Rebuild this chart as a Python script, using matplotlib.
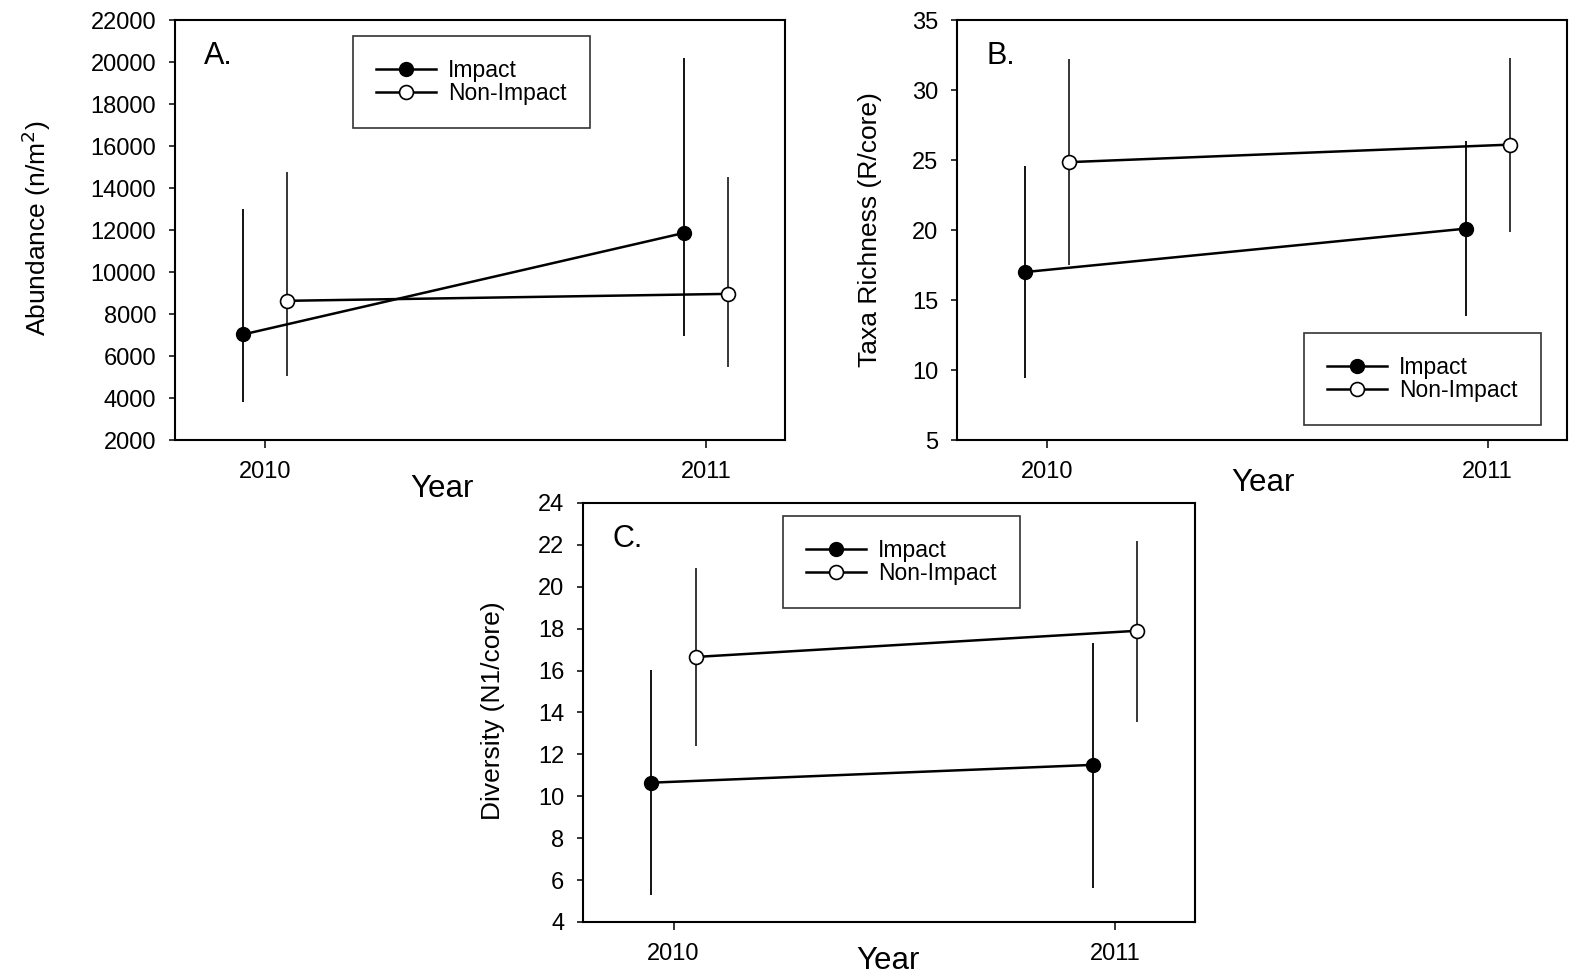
import matplotlib
matplotlib.use('Agg')
import matplotlib.pyplot as plt
import numpy as np

plt.rcParams['font.family'] = ['Liberation Sans', 'DejaVu Sans']

years = [2010, 2011]

# abundance (n/m2): mean, lower and upper end of bars
abund_imp = [7030, 11860]
abund_imp_lo = [3790, 6950]
abund_imp_hi = [12980, 20170]
abund_non = [8630, 8960]
abund_non_lo = [5050, 5500]
abund_non_hi = [14750, 14520]

# taxa richness (R/core)
rich_imp = [17.0, 20.1]
rich_imp_lo = [9.45, 13.85]
rich_imp_hi = [24.55, 26.35]
rich_non = [24.85, 26.1]
rich_non_lo = [17.5, 19.85]
rich_non_hi = [32.2, 32.3]

# diversity (N1/core)
div_imp = [10.65, 11.5]
div_imp_lo = [5.27, 5.6]
div_imp_hi = [16.05, 17.33]
div_non = [16.65, 17.9]
div_non_lo = [12.4, 13.55]
div_non_hi = [20.9, 22.2]

off = 0.05

fig = plt.figure(figsize=(15.73, 9.77), dpi=100)
axA = fig.add_axes([0.1113, 0.5496, 0.3878, 0.4299])
axB = fig.add_axes([0.6084, 0.5496, 0.3878, 0.4299])
axC = fig.add_axes([0.3706, 0.0563, 0.3890, 0.4289])


def panel(ax, imp, imp_lo, imp_hi, non, non_lo, non_hi, ylim, yticks, ylabel,
          letter, leg_xy):
    x = np.array(years, dtype=float)
    imp = np.array(imp); non = np.array(non)
    e_imp = [imp - np.array(imp_lo), np.array(imp_hi) - imp]
    e_non = [non - np.array(non_lo), np.array(non_hi) - non]
    ax.errorbar(x - off, imp, yerr=e_imp, fmt='none', ecolor='black',
                elinewidth=1.3, capsize=0, zorder=2)
    ax.errorbar(x + off, non, yerr=e_non, fmt='none', ecolor='black',
                elinewidth=1.1, capsize=0, zorder=2)
    ax.plot(x - off, imp, '-o', color='black', lw=1.8, ms=10,
            mfc='black', mec='black', label='Impact', zorder=3)
    ax.plot(x + off, non, '-o', color='black', lw=1.8, ms=10,
            mfc='white', mec='black', mew=1.2, label='Non-Impact', zorder=3)
    ax.set_xlim(2009.795, 2011.18)
    ax.set_xticks(years)
    ax.set_xticklabels([str(y) for y in years])
    ax.set_ylim(*ylim)
    ax.set_yticks(yticks)
    ax.tick_params(direction='out', width=1.1, labelsize=17)
    ax.tick_params(axis='y', length=4.5, pad=9)
    ax.tick_params(axis='x', length=6, pad=9)
    for s in ax.spines.values():
        s.set_linewidth(1.5)
    ax.set_ylabel(ylabel, fontsize=19)
    ax.set_xlabel('Year', fontsize=22.5)
    ax.text(0.048, 0.915, letter, transform=ax.transAxes, fontsize=22,
            va='center', ha='left')
    leg = ax.legend(loc='upper left', bbox_to_anchor=leg_xy, fontsize=16.5,
                    frameon=True, fancybox=False, edgecolor='black',
                    borderpad=1.0, handlelength=2.6, handletextpad=0.55,
                    labelspacing=0.0, borderaxespad=0)
    leg.get_frame().set_linewidth(1.2)
    return ax


panel(axA, abund_imp, abund_imp_lo, abund_imp_hi, abund_non, abund_non_lo,
      abund_non_hi, (2000, 22000), np.arange(2000, 22001, 2000),
      'Abundance (n/m$^2$)', 'A.', (0.292, 0.962))
panel(axB, rich_imp, rich_imp_lo, rich_imp_hi, rich_non, rich_non_lo,
      rich_non_hi, (5, 35), np.arange(5, 36, 5),
      'Taxa Richness (R/core)', 'B.', (0.569, 0.255))
panel(axC, div_imp, div_imp_lo, div_imp_hi, div_non, div_non_lo,
      div_non_hi, (4, 24), np.arange(4, 25, 2),
      'Diversity (N1/core)', 'C.', (0.327, 0.969))

axA.yaxis.set_label_coords(-0.200, 0.505)
axB.yaxis.set_label_coords(-0.123, 0.50)
axC.yaxis.set_label_coords(-0.128, 0.504)
axA.xaxis.set_label_coords(0.438, -0.081)
axB.xaxis.set_label_coords(0.502, -0.067)
axC.xaxis.set_label_coords(0.498, -0.057)

fig.savefig('out.png', dpi=100)
